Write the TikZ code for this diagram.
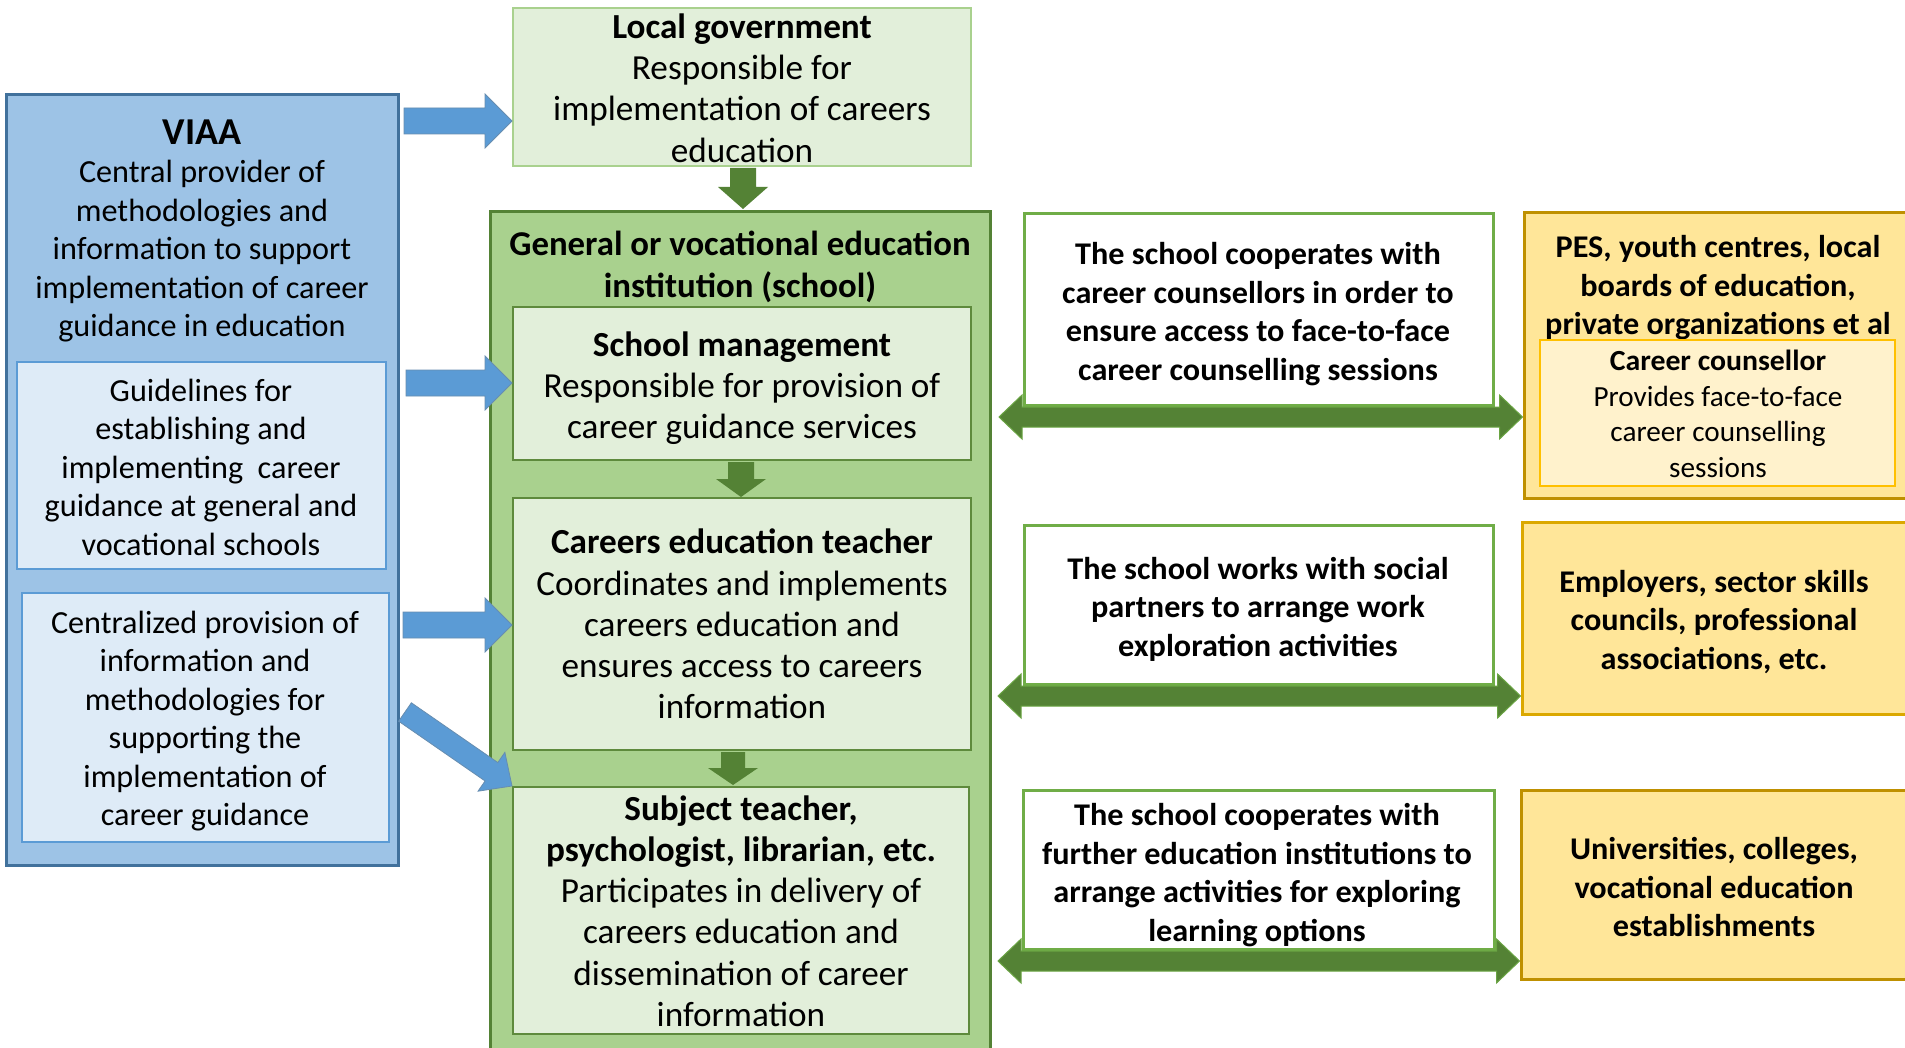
\documentclass[tikz,border=0pt]{standalone}
\usepackage{fontspec}
\setmainfont{Carlito}
\newfontfamily\widefont[FakeStretch=1.02]{Carlito}
\usetikzlibrary{calc,fit}
\definecolor{bluefill}{HTML}{9DC3E6}
\definecolor{blueline}{HTML}{41719C}
\definecolor{bluelight}{HTML}{DEEBF7}
\definecolor{bluemid}{HTML}{5B9BD5}
\definecolor{greenlight}{HTML}{E2EFDA}
\definecolor{greenmid}{HTML}{A9D18E}
\definecolor{greendark}{HTML}{548235}
\definecolor{greenline}{HTML}{70AD47}
\definecolor{innergreen}{HTML}{5E8A3C}
\definecolor{orfill}{HTML}{FFE699}
\definecolor{orline}{HTML}{BF9000}
\definecolor{orline2}{HTML}{DBA800}
\definecolor{orlight}{HTML}{FFF2CC}
\definecolor{orinline}{HTML}{FFC000}
\newcommand\blkarrow[6]{%
  \coordinate (#2#3h) at ($(#3)!#6!(#2)$);
  \path[#1] ($(#2)!#4!90:(#3)$) -- ($(#2#3h)!#4!90:(#3)$) -- ($(#2#3h)!#5!90:(#3)$) -- (#3)
    -- ($(#2#3h)!#5!-90:(#3)$) -- ($(#2#3h)!#4!-90:(#3)$) -- ($(#2)!#4!-90:(#3)$) -- cycle;
}
\newcommand\dblarrow[6]{%
  \coordinate (#2#3a) at ($(#2)!#6!(#3)$);
  \coordinate (#2#3b) at ($(#3)!#6!(#2)$);
  \path[#1] (#2) -- ($(#2#3a)!#5!-90:(#3)$) -- ($(#2#3a)!#4!-90:(#3)$) -- ($(#2#3b)!#4!-90:(#3)$)
    -- ($(#2#3b)!#5!-90:(#3)$) -- (#3) -- ($(#2#3b)!#5!90:(#3)$) -- ($(#2#3b)!#4!90:(#3)$)
    -- ($(#2#3a)!#4!90:(#3)$) -- ($(#2#3a)!#5!90:(#3)$) -- cycle;
}
\tikzset{
  outerblue/.style={fill=bluefill, draw=blueline, line width=1.5pt, inner sep=0pt},
  innerblue/.style={fill=bluelight, draw=bluemid, line width=1pt, inner sep=0pt},
  lgbox/.style={fill=greenlight, draw=greenmid, line width=1pt, inner sep=0pt},
  schoolbox/.style={fill=greenmid, draw=greendark, line width=1.5pt, inner sep=0pt},
  ingreen/.style={fill=greenlight, draw=innergreen, line width=1pt, inner sep=0pt},
  whitebox/.style={fill=white, draw=greenline, line width=1.5pt, inner sep=0pt},
  orbox/.style={fill=orfill, draw=orline, line width=1.5pt, inner sep=0pt},
  orinner/.style={fill=orlight, draw=orinline, line width=1pt, inner sep=0pt},
  txt/.style={align=center, inner sep=0pt, text=black},
  bigtxt/.style={txt, font=\fontsize{17.6}{20.6}\selectfont},
  midtxt/.style={txt, font=\fontsize{16.1}{19.25}\selectfont},
  widetxt/.style={txt, font=\widefont\bfseries\fontsize{15.8}{19.25}\selectfont},
  blarrow/.style={fill=bluemid, draw=blueline!80, line width=0.4pt},
  grarrow/.style={fill=greendark},
  dbarrow/.style={fill=greendark, draw=greenline!80!greendark, line width=0.5pt},
}
\begin{document}
\begin{tikzpicture}[x=0.5pt,y=-0.5pt]
\useasboundingbox (0,0) rectangle (1905,1048);
\fill[white] (0,0) rectangle (1905,1048);

% left column
\node[outerblue, fit={(6,95)(398,865)}] (viaa) {};
\node[innerblue, fit={(17,362)(386,569)}] (viaa1) {};
\node[innerblue, fit={(22,593)(389,842)}] (viaa2) {};
\node[midtxt] (viaat) at (202,231) {{\fontsize{19}{20.5}\selectfont\bfseries VIAA}\\Central provider of\\methodologies and\\information to support\\implementation of career\\guidance in education};
\node[midtxt] (viaa1t) at (201,467) {Guidelines for\\establishing and\\implementing~ career\\guidance at general and\\vocational schools};
\node[midtxt] (viaa2t) at (205,721) {Centralized provision of\\information and\\methodologies for\\supporting the\\implementation of\\career guidance};

% middle column
\node[lgbox, fit={(513,8)(971,166)}] (lg) {};
\node[bigtxt] (lgt) at (742,88) {\textbf{Local government}\\Responsible for\\implementation of careers\\education};
\node[schoolbox, fit={(490,212)(990,1065)}] (school) {};
\node[bigtxt, font=\bfseries\fontsize{17.4}{21}\selectfont] (schoolt) at (740,267) {General or vocational education\\institution (school)};
\node[ingreen, fit={(513,307)(971,460)}] (sm) {};
\node[bigtxt] (smt) at (742,388) {\textbf{School management}\\Responsible for provision of\\career guidance services};
\node[ingreen, fit={(513,498)(971,750)}] (cet) {};
\node[bigtxt] (cett) at (742,624) {\textbf{Careers education teacher}\\Coordinates and implements\\careers education and\\ensures access to careers\\information};
\node[ingreen, fit={(513,787)(969,1034)}] (st) {};
\node[bigtxt] (stt) at (741,911) {\textbf{Subject teacher,}\\\textbf{psychologist, librarian, etc.}\\Participates in delivery of\\careers education and\\dissemination of career\\information};

% right-middle text boxes
\node[whitebox, fit={(1024,214)(1493,405)}] (ra) {};
\node[widetxt] (rat) at (1258,314) {The school cooperates with\\career counsellors in order to\\ensure access to face-to-face\\career counselling sessions};
\node[whitebox, fit={(1024,525)(1493,684)}] (rb) {};
\node[widetxt] (rbt) at (1258,609) {The school works with social\\partners to arrange work\\exploration activities};
\node[whitebox, fit={(1023,790)(1494,949)}] (rc) {};
\node[widetxt] (rct) at (1257,875) {The school cooperates with\\further education institutions to\\arrange activities for exploring\\learning options};

% orange boxes
\node[orbox, fit={(1524,213)(1920,498)}] (o1) {};
\node[widetxt] (o1t) at (1718,288) {PES, youth centres, local\\boards of education,\\private organizations et al};
\node[orinner, fit={(1540,340)(1895,486)}] (o1i) {};
\node[txt, font=\fontsize{14.6}{17.8}\selectfont] (o1it) at (1718,414) {{\widefont\bfseries Career counsellor}\\Provides face-to-face\\career counselling\\sessions};
\node[orbox, draw=orline2, fit={(1522,522)(1920,714)}] (o2) {};
\node[widetxt] (o2t) at (1714,622) {Employers, sector skills\\councils, professional\\associations, etc.};
\node[orbox, fit={(1521,790)(1920,979)}] (o3) {};
\node[widetxt] (o3t) at (1714,887) {Universities, colleges,\\vocational education\\establishments};

% blue arrows
\coordinate (b1s) at (404,121);
\coordinate (b1e) at (lg.west |- b1s);
\blkarrow{blarrow}{b1s}{b1e}{6.5pt}{13.5pt}{13.5pt}
\coordinate (b2s) at (406,383);
\coordinate (b2e) at (sm.west |- b2s);
\blkarrow{blarrow}{b2s}{b2e}{6.5pt}{13.5pt}{13.5pt}
\coordinate (b3s) at (403,625);
\coordinate (b3e) at (cet.west |- b3s);
\blkarrow{blarrow}{b3s}{b3e}{6.5pt}{13.5pt}{13.5pt}
\coordinate (b4s) at (405,712);
\coordinate (b4e) at (st.north west);
\blkarrow{blarrow}{b4s}{b4e}{5.6pt}{11.8pt}{12.5pt}

% green down arrows
\coordinate (g1s) at ($(lg.south)+(1,1)$);
\coordinate (g1e) at (g1s |- 0,209);
\blkarrow{grarrow}{g1s}{g1e}{6.5pt}{12.5pt}{11pt}
\coordinate (g2s) at ($(sm.south)+(-1,1)$);
\coordinate (g2e) at (g2s |- 0,497);
\blkarrow{grarrow}{g2s}{g2e}{6.5pt}{12.5pt}{9pt}
\coordinate (g3s) at ($(cet.south)+(-9,1)$);
\coordinate (g3e) at (g3s |- 0,785);
\blkarrow{grarrow}{g3s}{g3e}{6pt}{12.5pt}{8.5pt}

% double arrows
\coordinate (dAs) at (999,417);
\coordinate (dAe) at (o1.west |- dAs);
\dblarrow{dbarrow}{dAs}{dAe}{5pt}{11pt}{11.5pt}
\coordinate (dBs) at (998,696);
\coordinate (dBe) at (o2.west |- dBs);
\dblarrow{dbarrow}{dBs}{dBe}{5pt}{11pt}{11.5pt}
\coordinate (dCs) at (998,961);
\coordinate (dCe) at (o3.west |- dCs);
\dblarrow{dbarrow}{dCs}{dCe}{5pt}{11pt}{11.5pt}
\end{tikzpicture}
\end{document}
